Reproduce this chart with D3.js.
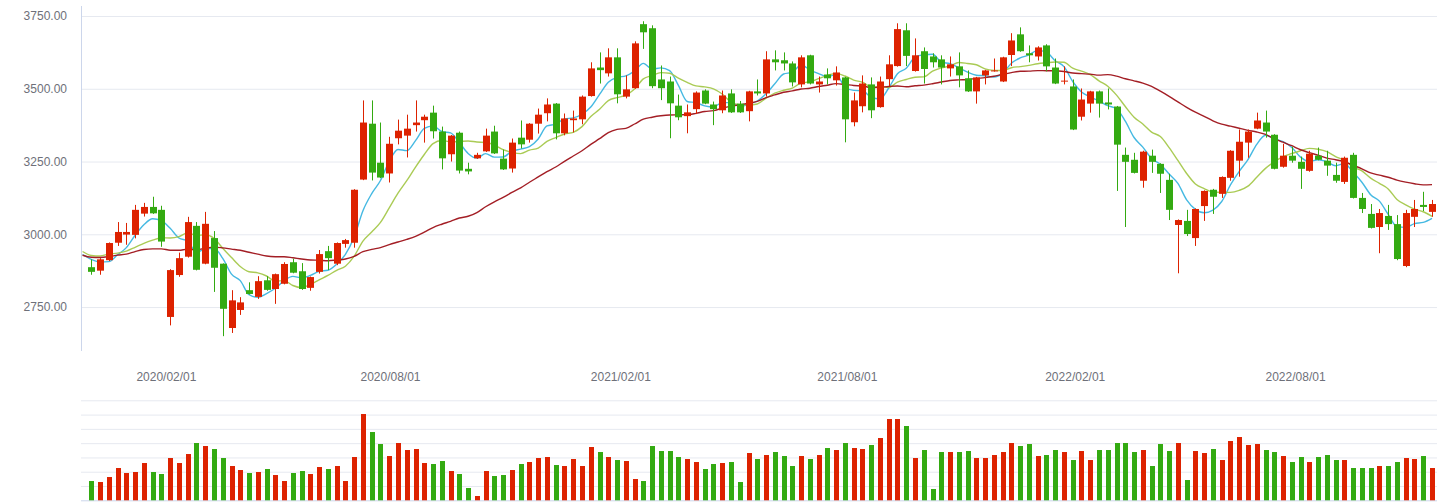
<!DOCTYPE html>
<html>
<head>
<meta charset="utf-8">
<script src="https://cdn.jsdelivr.net/npm/d3@7"></script>
<style>
  html, body { margin: 0; padding: 0; background: #ffffff; }
  svg { display: block; }
  text { font-family: "Liberation Sans", Arial, sans-serif; }
</style>
</head>
<body>
<svg id="chart" width="1446" height="503"></svg>
<script>
// ---------------- data (weekly, week-ending dates) ----------------
const dates = [
"2019-11-29","2019-12-06","2019-12-13","2019-12-20","2019-12-27","2020-01-03","2020-01-10","2020-01-17","2020-01-24","2020-02-07",
"2020-02-14","2020-02-21","2020-02-28","2020-03-06","2020-03-13","2020-03-20","2020-03-27","2020-04-03","2020-04-10","2020-04-17",
"2020-04-24","2020-05-01","2020-05-08","2020-05-15","2020-05-22","2020-05-29","2020-06-05","2020-06-12","2020-06-19","2020-06-26",
"2020-07-03","2020-07-10","2020-07-17","2020-07-24","2020-07-31","2020-08-07","2020-08-14","2020-08-21","2020-08-28","2020-09-04",
"2020-09-11","2020-09-18","2020-09-25","2020-10-02","2020-10-09","2020-10-16","2020-10-23","2020-10-30","2020-11-06","2020-11-13",
"2020-11-20","2020-11-27","2020-12-04","2020-12-11","2020-12-18","2020-12-25","2021-01-01","2021-01-08","2021-01-15","2021-01-22",
"2021-01-29","2021-02-05","2021-02-12","2021-02-19","2021-02-26","2021-03-05","2021-03-12","2021-03-19","2021-03-26","2021-04-02",
"2021-04-09","2021-04-16","2021-04-23","2021-04-30","2021-05-07","2021-05-14","2021-05-21","2021-05-28","2021-06-04","2021-06-11",
"2021-06-18","2021-06-25","2021-07-02","2021-07-09","2021-07-16","2021-07-23","2021-07-30","2021-08-06","2021-08-13","2021-08-20",
"2021-08-27","2021-09-03","2021-09-10","2021-09-17","2021-09-24","2021-10-01","2021-10-08","2021-10-15","2021-10-22","2021-10-29",
"2021-11-05","2021-11-12","2021-11-19","2021-11-26","2021-12-03","2021-12-10","2021-12-17","2021-12-24","2021-12-31","2022-01-07",
"2022-01-14","2022-01-21","2022-01-28","2022-02-11","2022-02-18","2022-02-25","2022-03-04","2022-03-11","2022-03-18","2022-03-25",
"2022-04-01","2022-04-08","2022-04-15","2022-04-22","2022-04-29","2022-05-06","2022-05-13","2022-05-20","2022-05-27","2022-06-03",
"2022-06-10","2022-06-17","2022-06-24","2022-07-01","2022-07-08","2022-07-15","2022-07-22","2022-07-29","2022-08-05","2022-08-12",
"2022-08-19","2022-08-26","2022-09-02","2022-09-09","2022-09-16","2022-09-23","2022-09-30","2022-10-14","2022-10-21","2022-10-28",
"2022-11-04","2022-11-11","2022-11-18","2022-11-25"
];
const open = [
2887,2875,2911,2971,2999,2998,3071,3094,3084,2716,
2860,2923,3029,2899,2987,2899,2678,2740,2808,2785,
2842,2812,2830,2904,2873,2816,2871,2942,2899,2967,
2971,3188,3380,3246,3209,3330,3339,3375,3392,3418,
3353,3275,3349,3225,3261,3285,3353,3260,3226,3332,
3325,3380,3416,3449,3347,3392,3395,3475,3573,3553,
3608,3473,3502,3722,3708,3532,3525,3442,3406,3430,
3494,3446,3426,3484,3449,3423,3491,3484,3601,3598,
3587,3515,3615,3515,3549,3529,3539,3385,3440,3515,
3437,3533,3578,3701,3561,3629,3611,3601,3570,3577,
3536,3491,3546,3561,3525,3616,3687,3622,3611,3649,
3573,3525,3508,3404,3449,3491,3453,3439,3273,3256,
3184,3270,3242,3187,3032,3046,2987,3097,3153,3139,
3194,3253,3315,3363,3384,3342,3232,3270,3249,3218,
3270,3253,3204,3180,3273,3125,3070,3025,3063,3035,
2891,3060,3101,3077
];
const close = [
2871,2914,2970,3008,3008,3084,3094,3072,2975,2877,
2918,3042,2878,3036,2885,2744,2773,2766,2795,2839,
2809,2863,2898,2868,2812,2853,2932,2918,2970,2980,
3153,3384,3212,3195,3311,3356,3363,3384,3404,3354,
3261,3339,3219,3216,3273,3339,3278,3223,3315,3309,
3380,3411,3446,3347,3398,3398,3473,3570,3564,3608,
3481,3498,3656,3694,3509,3502,3450,3402,3419,3487,
3449,3430,3477,3419,3419,3491,3484,3601,3591,3587,
3522,3608,3518,3525,3536,3556,3395,3460,3518,3426,
3525,3584,3705,3613,3615,3568,3591,3573,3584,3546,
3491,3539,3563,3563,3608,3666,3629,3615,3642,3577,
3518,3528,3360,3463,3491,3449,3446,3308,3249,3211,
3284,3249,3208,3084,3049,3001,3087,3149,3129,3197,
3287,3318,3353,3391,3353,3225,3270,3253,3225,3277,
3256,3236,3184,3263,3125,3087,3022,3073,3035,2915,
3073,3087,3094,3104
];
const high = [
2914,2918,2972,3042,3039,3101,3108,3129,3098,2880,
2937,3060,3042,3077,3011,2900,2808,2784,2835,2856,
2856,2865,2904,2916,2901,2855,2946,2960,2972,2984,
3155,3460,3460,3384,3335,3394,3411,3460,3411,3442,
3370,3341,3353,3246,3280,3363,3373,3291,3329,3391,
3382,3432,3467,3451,3415,3425,3477,3591,3625,3639,
3639,3546,3663,3732,3718,3580,3542,3480,3446,3491,
3498,3456,3494,3498,3458,3493,3532,3629,3632,3625,
3594,3615,3617,3542,3570,3577,3541,3487,3546,3539,
3542,3615,3725,3725,3673,3642,3622,3615,3611,3625,
3563,3541,3565,3604,3610,3691,3711,3649,3646,3653,
3604,3577,3532,3501,3493,3494,3501,3441,3298,3280,
3287,3291,3244,3208,3051,3084,3089,3151,3156,3199,
3289,3360,3360,3418,3425,3344,3311,3301,3267,3287,
3298,3287,3246,3267,3280,3142,3104,3087,3101,3066,
3084,3118,3146,3118
];
const low = [
2861,2861,2908,2960,2964,2986,3061,3070,2957,2687,
2854,2920,2876,2897,2802,2650,2661,2723,2793,2778,
2806,2761,2828,2866,2809,2806,2865,2877,2894,2954,
2954,3186,3185,3193,3178,3309,3264,3353,3315,3329,
3223,3250,3209,3206,3259,3283,3276,3221,3212,3295,
3315,3346,3388,3326,3340,3350,3378,3473,3518,3542,
3450,3467,3500,3637,3502,3461,3330,3392,3347,3413,
3447,3375,3416,3417,3417,3388,3477,3473,3563,3563,
3508,3505,3515,3487,3515,3511,3316,3371,3419,3399,
3435,3509,3576,3578,3559,3518,3573,3515,3542,3505,
3489,3449,3515,3559,3523,3578,3627,3591,3597,3560,
3516,3515,3358,3391,3418,3401,3429,3149,3025,3209,
3160,3211,3142,3049,2866,2994,2960,3046,3070,3125,
3184,3198,3263,3361,3332,3223,3229,3246,3156,3215,
3254,3201,3177,3173,3123,3073,3020,2935,3015,2911,
2887,3025,3080,3060
];
const volume = [
135,128,163,226,191,198,261,198,184,296,
261,324,401,380,359,296,240,212,191,198,
219,177,135,191,205,184,233,219,240,135,
303,604,478,394,310,401,352,359,261,254,
275,205,184,86,30,205,170,177,212,254,
268,296,303,247,240,289,240,373,338,303,
282,275,149,135,380,345,345,303,289,268,
219,254,261,268,128,331,289,317,338,310,
240,310,289,317,366,352,401,366,359,387,
436,569,569,520,296,352,79,338,338,338,
345,296,296,317,338,401,380,394,310,317,
352,338,282,345,282,352,352,401,401,338,
352,240,394,345,401,142,345,331,359,282,
415,443,387,394,352,338,310,268,303,268,
303,317,282,282,226,226,226,240,240,268,
296,289,310,226
];
// weekly closes before the first visible week (used only by the moving averages)
const priorCloses = [
3078,2939,2882,2853,2899,2828,2882,3002,2979,3011,
2931,2924,2945,2868,2775,2824,2897,2886,3000,3031,
3006,2932,2905,2974,2938,2955,2958,2964,2891,2885
];
const maPeriods = [5, 10, 30];
const maColors = ["#3bb5e0", "#a5c84c", "#9e1219"];
const priceTicks = [2750, 3000, 3250, 3500, 3750];
const volumeTicks = [0, 100, 200, 300, 400, 500, 600, 700];
const dateTickLabels = ["2020/02/01", "2020/08/01", "2021/02/01", "2021/08/01", "2022/02/01", "2022/08/01"];

// ---------------- layout ----------------
const svg = d3.select("#chart");
const left = 81, right = 1437;
const mainTop = 6, mainBottom = 351;
const volTop = 400.3, volBottom = 500.3;
const upColor = "#dd2200", downColor = "#33aa11";
const gridColor = "#e6e9f0", axisColor = "#ccd6eb", textColor = "#6e7079";

const n = dates.length;
const parse = d3.timeParse("%Y-%m-%d");
const dateObjs = dates.map(parse);

const x = d3.scaleLinear().domain([0, n - 1]).range([91.3, 1432]);
const y = d3.scaleLinear().domain([2599, 3784.4]).range([mainBottom, mainTop]);
const yv = d3.scaleLinear().domain([0, 700]).range([volBottom, volTop]);

svg.append("defs").append("clipPath").attr("id", "plotclip")
  .append("rect").attr("x", left).attr("y", mainTop).attr("width", right - left).attr("height", mainBottom - mainTop);

// price grid + labels
const yAxis = d3.axisLeft(y).tickValues(priceTicks).tickFormat(d3.format(".2f"))
  .tickSize(-(right - left)).tickPadding(14);
const gy = svg.append("g").attr("transform", `translate(${left},0)`).call(yAxis);
gy.select(".domain").remove();
gy.selectAll(".tick line").attr("stroke", gridColor).attr("stroke-width", 1);
gy.selectAll(".tick text").attr("fill", textColor).attr("font-size", 12)
  .attr("font-family", "'Liberation Sans', Arial, sans-serif");
svg.append("line").attr("x1", left + 0.5).attr("x2", left + 0.5).attr("y1", mainTop).attr("y2", mainBottom)
  .attr("stroke", axisColor).attr("stroke-width", 1);

// volume grid
const vAxis = d3.axisLeft(yv).tickValues(volumeTicks).tickFormat("").tickSize(-(right - left));
const gv = svg.append("g").attr("transform", `translate(${left},0)`).call(vAxis);
gv.select(".domain").remove();
gv.selectAll(".tick line").attr("stroke", (d) => d === 0 ? axisColor : gridColor).attr("stroke-width", 1);

// x labels: positioned by date, interpolated between neighbouring weeks
function datePos(t) {
  for (let j = 0; j < n - 1; j++) {
    if (dateObjs[j] <= t && t < dateObjs[j + 1]) {
      return j + (t - dateObjs[j]) / (dateObjs[j + 1] - dateObjs[j]);
    }
  }
  return null;
}
const labelParse = d3.timeParse("%Y/%m/%d");
svg.append("g").selectAll("text").data(dateTickLabels).join("text")
  .attr("x", (d) => x(datePos(labelParse(d))))
  .attr("y", 381)
  .attr("text-anchor", "middle")
  .attr("fill", textColor).attr("font-size", 12)
  .text((d) => d);

// moving averages (from closes)
const allCloses = priorCloses.concat(close);
const off = priorCloses.length;
const plot = svg.append("g").attr("clip-path", "url(#plotclip)");
maPeriods.forEach((p, k) => {
  const pts = [];
  for (let i = -1; i < n; i++) {
    const end = i + off;
    if (end - p + 1 < 0) continue;
    const v = d3.mean(allCloses.slice(end - p + 1, end + 1));
    pts.push([i, v]);
  }
  const line = d3.line().x((d) => x(d[0])).y((d) => y(d[1])).curve(d3.curveMonotoneX);
  plot.append("path").datum(pts).attr("d", line).attr("fill", "none")
    .attr("stroke", maColors[k]).attr("stroke-width", 1.4).attr("stroke-opacity", 0.95);
});

// candles
const idx = d3.range(n);
const cg = svg.append("g");
const bodyW = 7;
cg.selectAll("line.wick").data(idx).join("line").attr("class", "wick")
  .attr("x1", (i) => Math.round(x(i)) + 0.5).attr("x2", (i) => Math.round(x(i)) + 0.5)
  .attr("y1", (i) => y(high[i])).attr("y2", (i) => y(low[i]))
  .attr("stroke", (i) => close[i] >= open[i] ? upColor : downColor).attr("stroke-width", 1);
cg.selectAll("rect.body").data(idx).join("rect").attr("class", "body")
  .attr("x", (i) => Math.round(x(i)) + 0.5 - bodyW / 2)
  .attr("width", bodyW)
  .attr("y", (i) => y(Math.max(open[i], close[i])))
  .attr("height", (i) => Math.max(1, Math.abs(y(open[i]) - y(close[i]))))
  .attr("fill", (i) => close[i] >= open[i] ? upColor : downColor);

// volume bars
const volW = 5;
svg.append("g").selectAll("rect").data(idx).join("rect")
  .attr("x", (i) => Math.round(x(i)) + 0.5 - volW / 2)
  .attr("width", volW)
  .attr("y", (i) => yv(volume[i]))
  .attr("height", (i) => yv(0) - yv(volume[i]))
  .attr("fill", (i) => close[i] >= open[i] ? upColor : downColor);
</script>
</body>
</html>
